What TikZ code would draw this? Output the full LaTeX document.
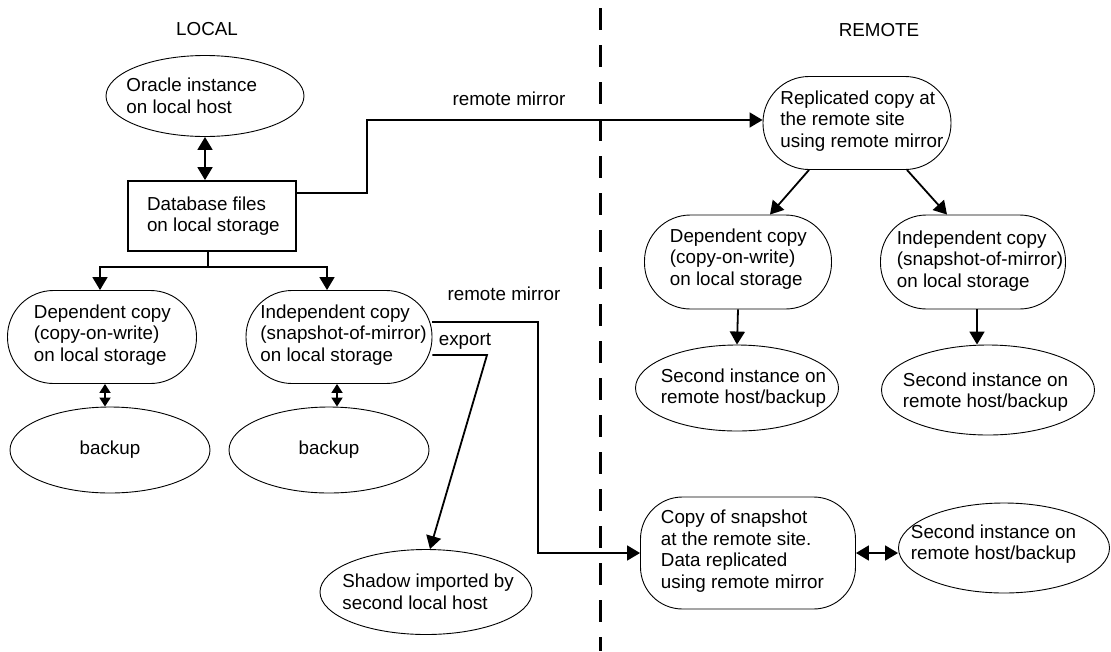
\documentclass[tikz,border=0pt]{standalone}
\usepackage{fontspec}
\setmainfont{Liberation Sans}
\usetikzlibrary{arrows.meta}
\usetikzlibrary{shapes.geometric}

\begin{document}
\begin{tikzpicture}[x=1pt, y=-1pt, font=\fontsize{18.8}{21.5}\selectfont,
    >={Triangle[length=13pt,width=15pt]}, line width=1.8pt,
    pill/.style={draw, line width=0.9pt, rounded corners=46pt, inner sep=0pt},
    oval/.style={draw, ellipse, line width=0.9pt, inner sep=0pt},
    txt/.style={align=left, inner sep=0pt, anchor=west},
    small/.style={{Triangle[length=9pt,width=11pt]}-{Triangle[length=9pt,width=11pt]}}]
    \useasboundingbox (0,0) rectangle (1111,651);

    \node (local) at (207,29) {LOCAL};
    \node (remote) at (879,30) {REMOTE};
    \coordinate (top) at (600,8);
    \coordinate (bot) at (600,651);
    \draw[line width=3pt, dash pattern=on 22pt off 15pt] (top) -- (bot);

    \node[oval, minimum width=198pt, minimum height=81pt] (ora) at (205,96) {};
    \node[txt] (ora-t) at ([xshift=20pt]ora.west) {Oracle instance\\on local host};
    \node[draw, line width=1.8pt, minimum width=168pt, minimum height=70pt] (db) at (212,216) {};
    \node[txt] (db-t) at ([xshift=19pt]db.west) {Database files\\on local storage};
    \node[pill, minimum width=189pt, minimum height=93pt] (dep) at (102,337) {};
    \node[txt] (dep-t) at ([xshift=26pt,yshift=2pt]dep.west) {Dependent copy\\(copy-on-write)\\on local storage};
    \node[pill, minimum width=186pt, minimum height=93pt] (ind) at (339,337) {};
    \node[txt] (ind-t) at ([xshift=14pt,yshift=2pt]ind.west) {Independent copy\\(snapshot-of-mirror)\\on local storage};
    \node[oval, minimum width=200pt, minimum height=86pt] (bk1) at (110,450) {backup};
    \node[oval, minimum width=200pt, minimum height=86pt] (bk2) at (329,450) {backup};
    \node[oval, minimum width=212pt, minimum height=85pt] (shd) at (426,592) {};
    \node[txt] (shd-t) at ([xshift=22pt]shd.west) {Shadow imported by\\second local host};

    \node[pill, minimum width=188pt, minimum height=93pt] (rep) at (857,123) {};
    \node[txt] (rep-t) at ([xshift=17pt,yshift=2pt]rep.west) {Replicated copy at\\the remote site\\using remote mirror};
    \node[pill, minimum width=187pt, minimum height=94pt] (rdep) at (738,262) {};
    \node[txt] (rdep-t) at ([xshift=25pt,yshift=3pt]rdep.west) {Dependent copy\\(copy-on-write)\\on local storage};
    \node[pill, minimum width=185pt, minimum height=94pt] (rind) at (973,262) {};
    \node[txt] (rind-t) at ([xshift=16pt,yshift=1pt]rind.west) {Independent copy\\(snapshot-of-mirror)\\on local storage};
    \node[oval, minimum width=203pt, minimum height=86pt] (rsec1) at (737,388) {};
    \node[txt] (rsec1-t) at ([xshift=25pt]rsec1.west) {Second instance on\\remote host/backup};
    \node[oval, minimum width=213pt, minimum height=90pt] (rsec2) at (988,390) {};
    \node[txt] (rsec2-t) at ([xshift=21pt,yshift=-2pt]rsec2.west) {Second instance on\\remote host/backup};
    \node[pill, rounded corners=42pt, minimum width=215pt, minimum height=112pt] (snap) at (748,553) {};
    \node[txt] (snap-t) at ([xshift=20pt,yshift=2pt]snap.west) {Copy of snapshot\\at the remote site.\\Data replicated\\using remote mirror};
    \node[oval, minimum width=211pt, minimum height=90pt] (sec3) at (1004,548) {};
    \node[txt] (sec3-t) at ([xshift=12pt,yshift=4pt]sec3.west) {Second instance on\\remote host/backup};

    \node (mir1) at (509,99) {remote mirror};
    \node (mir2) at (504,294) {remote mirror};
    \node (exp) at (465,341) {export};

    \draw[<->] (ora.south) -- (ora.south |- db.north);
    \coordinate (fork) at (208,267);
    \draw (db.south -| fork) -- (fork);
    \draw[->] (fork) -| ([xshift=-2pt]dep.north);
    \draw[->] (fork) -| ([xshift=-12pt]ind.north);
    \draw[->] ([yshift=23pt]db.east) -| (367,120) -- ([yshift=3pt]rep.west);
    \draw[small] ([xshift=3pt]dep.south) -- ([xshift=3pt]dep.south |- bk1.north);
    \draw[small] ([xshift=-2pt]ind.south) -- ([xshift=-2pt]ind.south |- bk2.north);
    \draw[->] ([yshift=15pt]ind.east) -| (538,553) -- (snap.west);
    \draw[->] ([yshift=-18pt]ind.east) -- (487,355) -- ([xshift=4pt]shd.north);
    \draw[->] ([xshift=-48pt]rep.south) -- ([xshift=32pt]rdep.north);
    \draw[->] ([xshift=50pt]rep.south) -- ([xshift=-26pt]rind.north);
    \draw[->] (rdep.south) -- (rsec1.north);
    \draw[->] ([xshift=4pt]rind.south) -- ([xshift=4pt]rind.south |- rsec2.north);
    \draw[<->] (snap.east) -- (snap.east -| sec3.west);
\end{tikzpicture}
\end{document}
